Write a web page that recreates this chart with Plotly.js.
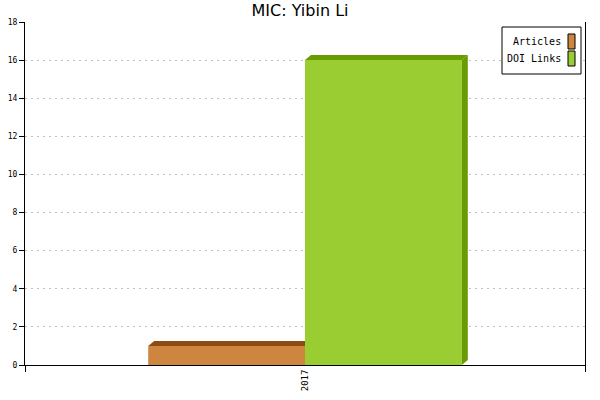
<!DOCTYPE html>
<html>
<head>
<meta charset="utf-8">
<script src="https://cdn.plot.ly/plotly-3.0.1.min.js"></script>
<style>
  html, body { margin: 0; padding: 0; background: #ffffff; }
  #chart { width: 600px; height: 400px; }
</style>
</head>
<body>
<div id="chart"></div>
<script>
// data
const categories = ['2017'];
const seriesNames = ['Articles', 'DOI Links'];
const articles = [1];
const doiLinks = [16];
const yTicks = [0, 2, 4, 6, 8, 10, 12, 14, 16, 18];

// style
const frontColors = ['#cd853f', '#9acd32'];
const depthColors = ['#8f4c12', '#689c00'];
const MONO = 'DejaVu Sans Mono, monospace';
const MARGIN = { l: 25, r: 15, t: 22, b: 35 };
const PLOT_W = 600 - MARGIN.l - MARGIN.r;
const PLOT_H = 400 - MARGIN.t - MARGIN.b;
const Y_MAX = 18;
const BAR_W = 0.28;
const DEPTH_X = 6 / PLOT_W;          // 6px in x units (range is 1 wide)
const DEPTH_Y = 5 / PLOT_H * Y_MAX;  // 5px in y units

const allSeries = [articles, doiLinks];
const traces = [];
const depthTraces = [];

allSeries.forEach((values, i) => {
  const offset = -BAR_W + i * BAR_W;
  traces.push({
    type: 'bar',
    name: seriesNames[i],
    x: categories.map((c, k) => k),
    y: values,
    width: BAR_W,
    offset: offset,
    marker: { color: frontColors[i], line: { width: 0 } },
    showlegend: false,
    hoverinfo: 'skip',
  });

  const isLast = i === allSeries.length - 1;
  values.forEach((v, k) => {
    const x0 = k + offset;
    const x1 = x0 + BAR_W;
    // top face (clipped at the right edge when the next bar covers it)
    const topRight = isLast ? x1 + DEPTH_X : x1;
    depthTraces.push({
      type: 'scatter', mode: 'lines', fill: 'toself',
      x: [x0, x0 + DEPTH_X, topRight, x1, x0],
      y: [v, v + DEPTH_Y, v + DEPTH_Y, v, v],
      fillcolor: depthColors[i], line: { width: 0 },
      showlegend: false, hoverinfo: 'skip',
    });
    if (isLast) {
      depthTraces.push({
        type: 'scatter', mode: 'lines', fill: 'toself',
        x: [x1, x1, x1 + DEPTH_X, x1 + DEPTH_X, x1],
        y: [0, v, v + DEPTH_Y, DEPTH_Y, 0],
        fillcolor: depthColors[i], line: { width: 0 },
        showlegend: false, hoverinfo: 'skip',
      });
    }
  });
});

// hand made legend: text on the left, swatch on the right
const toPx = (px) => (px - MARGIN.l) / PLOT_W;
const toPy = (py) => (400 - MARGIN.b - py) / PLOT_H;
const shapes = [{
  type: 'rect', xref: 'paper', yref: 'paper',
  x0: toPx(502), x1: toPx(581), y0: toPy(74), y1: toPy(27),
  line: { color: '#000000', width: 1 }, fillcolor: '#ffffff', layer: 'above',
}];
const annotations = [];
seriesNames.forEach((name, i) => {
  const top = 34 + i * 17;
  shapes.push({
    type: 'rect', xref: 'paper', yref: 'paper',
    x0: toPx(568), x1: toPx(575), y0: toPy(top + 15), y1: toPy(top),
    line: { color: '#000000', width: 1 }, fillcolor: frontColors[i], layer: 'above',
  });
  annotations.push({
    xref: 'paper', yref: 'paper', x: toPx(563), y: toPy(top + 8),
    xanchor: 'right', yanchor: 'middle', showarrow: false,
    text: name, font: { family: MONO, size: 10, color: '#000000' },
  });
});

const layout = {
  width: 600,
  height: 400,
  margin: MARGIN,
  paper_bgcolor: '#ffffff',
  plot_bgcolor: '#ffffff',
  title: {
    text: 'MIC: Yibin Li',
    x: 0.5, xanchor: 'center', y: 0.975, yanchor: 'middle',
    font: { family: 'DejaVu Sans, sans-serif', size: 16, color: '#000000' },
  },
  barmode: 'overlay',
  showlegend: false,
  xaxis: {
    range: [-0.5, 0.5],
    tickvals: [0],
    ticktext: categories,
    tickangle: -90,
    ticks: '',
    tickfont: { family: MONO, size: 9, color: '#000000' },
    minor: { tickvals: [-0.5, 0.5], ticks: 'outside', ticklen: 6, tickcolor: '#000000', tickwidth: 1 },
    showline: true, linecolor: '#000000', linewidth: 1,
    showgrid: false, zeroline: false, fixedrange: true,
  },
  yaxis: {
    range: [0, Y_MAX],
    tickvals: yTicks,
    ticks: 'outside', ticklen: 5, tickcolor: '#000000',
    tickfont: { family: MONO, size: 8, color: '#000000' },
    showline: true, linecolor: '#000000', linewidth: 1, mirror: true,
    showgrid: true, gridcolor: '#c0c0c0', griddash: '2px,4px', gridwidth: 1,
    zeroline: false, fixedrange: true,
  },
  shapes,
  annotations,
};

Plotly.newPlot('chart', traces.concat(depthTraces), layout, { displayModeBar: false, staticPlot: true });
</script>
</body>
</html>
